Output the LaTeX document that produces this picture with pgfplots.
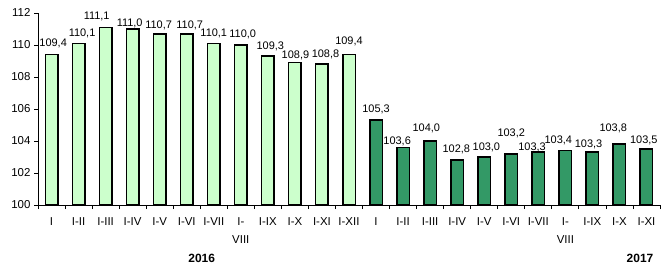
\documentclass[border=0pt]{standalone}
\usepackage{pgfplots}
\pgfplotsset{compat=1.18}
\usepackage{pgfplotstable}
\usepackage{fontspec}
\setmainfont{Liberation Sans}
\definecolor{lightg}{HTML}{CCFFCC}
\definecolor{darkg}{HTML}{339966}

\pgfplotstableread{
x y
0 109.4
1 110.1
2 111.1
3 111.0
4 110.7
5 110.7
6 110.1
7 110.0
8 109.3
9 108.9
10 108.8
11 109.4
}\yearA

\pgfplotstableread{
x y
12 105.3
13 103.6
14 104.0
15 102.8
16 103.0
17 103.2
18 103.3
19 103.4
20 103.3
21 103.8
22 103.5
}\yearB

\pgfplotstableread{
x y label
0.06 110.12 109,4
1.13 110.75 110,1
1.67 111.81 111,1
2.89 111.38 111,0
3.96 111.25 110,7
5.11 111.25 110,7
6.00 110.75 110,1
7.07 110.69 110,0
8.09 109.94 109,3
9.02 109.38 108,9
10.13 109.42 108,8
11.00 110.20 109,4
12.00 105.98 105,3
12.78 103.96 103,6
13.86 104.79 104,0
14.97 103.48 102,8
16.08 103.58 103,0
17.00 104.48 103,2
17.77 103.60 103,3
18.74 104.06 103,4
19.86 103.81 103,3
20.77 104.79 103,8
21.90 104.06 103,5
}\labels

\begin{document}
\begin{tikzpicture}
\begin{axis}[
  scale only axis,
  width=622bp, height=192bp,
  xmin=-0.5, xmax=22.5,
  ymin=100, ymax=112,
  ytick={100,102,...,112},
  xtick={-0.5,0.5,...,22.5},
  x tick label as interval,
  xticklabels={I,I-II,I-III,I-IV,I-V,I-VI,I-VII,{I-\\VIII},I-IX,I-X,I-XI,I-XII,I,I-II,I-III,I-IV,I-V,I-VI,I-VII,{I-\\VIII},I-IX,I-X,I-XI},
  xticklabel style={align=center, font=\fontsize{11.5}{18}\selectfont, yshift=-5bp},
  yticklabel style={font=\fontsize{11.5}{14}\selectfont},
  /pgf/number format/assume math mode=true,
  axis x line*=bottom, axis y line*=left,
  axis line style={-, black, line width=0.8bp},
  tick align=outside,
  major tick length=4bp,
  tick style={black, line width=0.8bp},
  ybar, bar width=12.5bp, bar shift=0pt,
  clip mode=individual,
]
\addplot[fill=lightg, draw=black, line width=1.5bp] table[x=x,y=y] {\yearA};
\addplot[fill=darkg, draw=black, line width=1.5bp] table[x=x,y=y] {\yearB};
\addplot[draw=none, fill=none, nodes near coords, point meta=explicit symbolic,
  every node near coord/.append style={anchor=center, inner sep=0pt, font=\fontsize{11}{13}\selectfont, black}]
  table[x=x,y=y,meta=label] {\labels};
\end{axis}
\node[font=\fontsize{12}{14}\selectfont\bfseries] at (163.7bp,-53.3bp) {2016};
\node[font=\fontsize{12}{14}\selectfont\bfseries] at (602bp,-53.3bp) {2017};
\pgfresetboundingbox
\path[use as bounding box] (-38bp,-64bp) rectangle (634bp,205bp);
\end{tikzpicture}
\end{document}
